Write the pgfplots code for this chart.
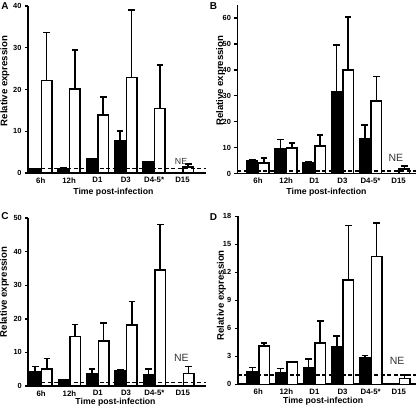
\documentclass[border=0pt]{standalone}
\usepackage{fontspec}
\setmainfont{Liberation Sans}
\usepackage{pgfplots}
\pgfplotsset{compat=1.18}
\pgfplotsset{
 panel/.style={
  scale only axis, width=178pt, height=168pt,
  ybar, bar width=10.5pt,
  axis x line*=bottom, axis y line*=left,
  axis line style={line width=1.7pt, -},
  xtick={0,...,5}, xticklabels={6h,12h,D1,D3,D4-5*,D15},
  x tick style={draw=none},
  y tick style={line width=1.4pt, black},
  tick align=outside, major tick length=3pt,
  ymin=0,
  xticklabel style={font=\fontsize{7.8}{9}\selectfont\bfseries, yshift=2pt},
  yticklabel style={font=\fontsize{7.4}{8}\selectfont\bfseries},
  /pgf/number format/assume math mode=true,
  xlabel={Time post-infection}, ylabel={Relative expression},
  xlabel style={font=\fontsize{8.7}{10}\selectfont\bfseries},
  ylabel style={font=\fontsize{9.6}{11}\selectfont\bfseries},
  clip=false,
 },
 left panel/.style={xmin=-0.45, xmax=5.83},
 right panel/.style={xmin=-0.73, xmax=5.6},
 blk/.style={bar shift=-5.8pt, fill=black, draw=black, line width=1.5pt,
   error bars/.cd, y dir=plus, y explicit, error bar style={line width=1.6pt, black, solid},
   error mark options={rotate=90, black, line width=1.6pt, mark size=3.3pt}},
 wht/.style={bar shift=5.8pt, fill=white, draw=black, line width=1.5pt,
   error bars/.cd, y dir=plus, y explicit, error bar style={line width=1.6pt, black, solid},
   error mark options={rotate=90, black, line width=1.6pt, mark size=3.3pt}},
 refl/.style={sharp plot, forget plot, black, line width=1.3pt, dash pattern=on 4pt off 2.5pt},
}
\begin{document}
\begin{tikzpicture}
\path[use as bounding box] (0pt,0pt) rectangle (416pt,-408pt);
% Panel A
\begin{axis}[panel, left panel, at={(28pt,-173pt)}, anchor=south west, height=167pt,
  ymax=40, ytick={0,10,20,30,40},
  ylabel style={at={(axis description cs:-0.13,0.55)}, anchor=center},
  xlabel style={at={(axis description cs:0.48,0)}, yshift=-19pt, anchor=center}]
\addplot[blk] coordinates {(0,0.9) +- (0,0.1) (1,1.1) +- (0,0.1) (2,3.3) +- (0,0.2) (3,7.8) +- (0,2.2) (4,2.7) +- (0,0.1)};
\addplot[wht] coordinates {(0,22.2) +- (0,11.5) (1,20.1) +- (0,9.4) (2,13.9) +- (0,4.3) (3,22.9) +- (0,16.2) (4,15.4) +- (0,10.4) (5,1.4) +- (0,0.7)};
\addplot[refl] coordinates {(-0.45,1) (5.83,1)};
\node[font=\fontsize{8.8}{10}\selectfont, text=black!80] at (axis cs:4.95,2.7) {NE};
\end{axis}
% Panel B
\begin{axis}[panel, right panel, at={(237.5pt,-173.5pt)}, anchor=south west, height=168.5pt,
  ymax=65, ytick={0,10,...,60},
  ylabel style={at={(axis description cs:-0.095,0.55)}, anchor=center},
  xlabel style={at={(axis description cs:0.5,0)}, yshift=-19pt, anchor=center}]
\addplot[blk] coordinates {(0,4.9) +- (0,0.4) (1,9.7) +- (0,3.4) (2,4.0) +- (0,0.7) (3,31.7) +- (0,17.8) (4,13.4) +- (0,5.2)};
\addplot[wht] coordinates {(0,4.0) +- (0,2.0) (1,9.9) +- (0,1.9) (2,10.7) +- (0,4.1) (3,39.9) +- (0,20.4) (4,27.9) +- (0,9.5) (5,1.8) +- (0,1.2)};
\addplot[refl] coordinates {(-0.73,1) (5.6,1)};
\node[font=\fontsize{10.5}{12}\selectfont, text=black!80] at (axis cs:4.9,6.2) {NE};
\end{axis}
% Panel C
\begin{axis}[panel, left panel, at={(28.3pt,-386pt)}, anchor=south west, height=168pt,
  ymax=50, ytick={0,10,...,50},
  ylabel style={at={(axis description cs:-0.134,0.56)}, anchor=center},
  xlabel style={at={(axis description cs:0.49,0)}, yshift=-16.5pt, anchor=center}]
\addplot[blk] coordinates {(0,4.3) +- (0,1.5) (1,1.8) +- (0,0.1) (2,3.7) +- (0,1.4) (3,4.4) +- (0,0.4) (4,3.3) +- (0,1.8)};
\addplot[wht] coordinates {(0,5.0) +- (0,3.2) (1,14.8) +- (0,3.5) (2,13.4) +- (0,5.4) (3,18.1) +- (0,7.0) (4,34.6) +- (0,13.5) (5,3.7) +- (0,2.1)};
\addplot[refl] coordinates {(-0.45,1) (5.83,1)};
\node[font=\fontsize{10.5}{12}\selectfont, text=black!80] at (axis cs:4.95,8.3) {NE};
\end{axis}
% Panel D
\begin{axis}[panel, right panel, at={(237.7pt,-384.3pt)}, anchor=south west, height=168pt,
  ymax=18, ytick={0,3,...,18},
  ylabel style={at={(axis description cs:-0.091,0.53)}, anchor=center},
  xlabel style={at={(axis description cs:0.48,0)}, yshift=-17pt, anchor=center}]
\addplot[blk] coordinates {(0,1.3) +- (0,0.5) (1,1.2) +- (0,0.5) (2,1.8) +- (0,0.9) (3,4.0) +- (0,1.2) (4,2.8) +- (0,0.3)};
\addplot[wht] coordinates {(0,4.1) +- (0,0.3) (1,2.4) +- (0,0.0) (2,4.4) +- (0,2.4) (3,11.2) +- (0,5.8) (4,13.7) +- (0,3.6) (5,0.6) +- (0,0.4)};
\addplot[refl] coordinates {(-0.73,1) (5.6,1)};
\node[font=\fontsize{10.5}{12}\selectfont, text=black!80] at (axis cs:4.94,2.55) {NE};
\end{axis}
\node[font=\fontsize{10}{12}\selectfont\bfseries] at (5pt,-6.5pt) {A};
\node[font=\fontsize{10}{12}\selectfont\bfseries] at (213.5pt,-6.5pt) {B};
\node[font=\fontsize{10}{12}\selectfont\bfseries] at (5pt,-216.5pt) {C};
\node[font=\fontsize{10}{12}\selectfont\bfseries] at (213.5pt,-217pt) {D};
\end{tikzpicture}
\end{document}
